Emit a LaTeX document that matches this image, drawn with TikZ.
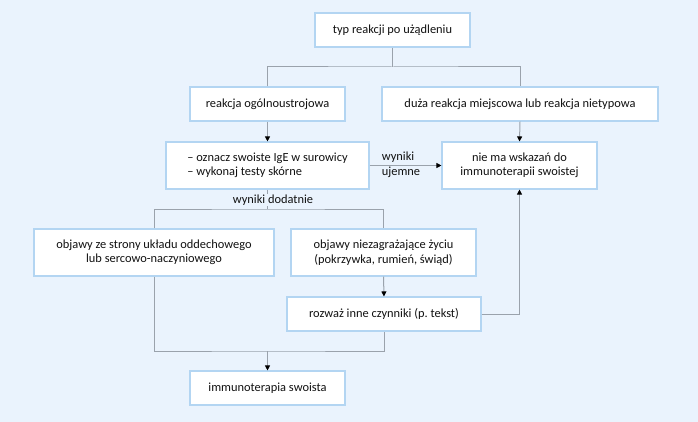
\documentclass[tikz,border=0pt]{standalone}
\usepackage{fontspec}
\setmainfont{Carlito}
\usetikzlibrary{arrows.meta}
\definecolor{bgc}{HTML}{EAF3FD}
\definecolor{bordc}{HTML}{B3D5F2}
\definecolor{linec}{HTML}{9AA2AC}
\definecolor{txtc}{HTML}{111111}
\frenchspacing
\tikzset{
  box/.style={draw=bordc, line width=1.1pt, fill=white, inner sep=0pt, align=center, text=txtc, font=\fontsize{12.4}{14.5}\selectfont},
  conn/.style={draw=linec, line width=1pt},
  arr/.style={conn, -{Triangle[length=5pt,width=5pt,color=black]}},
  lbl/.style={text=txtc, font=\fontsize{12.4}{14.5}\selectfont, inner sep=1pt},
}
\begin{document}
\begin{tikzpicture}[x=1pt,y=-1pt]
\fill[bgc] (0,0) rectangle (698,422);
\useasboundingbox (0,0) rectangle (698,422);
\node[box, minimum width=155pt, minimum height=34pt] (b1) at (392.5,30) {typ reakcji po użądleniu};
\node[box, minimum width=155pt, minimum height=34pt] (b2) at (267.5,104) {reakcja ogólnoustrojowa};
\node[box, minimum width=276pt, minimum height=34pt] (b3) at (520,104) {duża reakcja miejscowa lub reakcja nietypowa};
\node[box, minimum width=203pt, minimum height=47pt, align=left] (b4) at (267.5,165.5) {– oznacz swoiste IgE w surowicy\\– wykonaj testy skórne};
\node[box, minimum width=155pt, minimum height=47pt] (b5) at (519.5,165.5) {nie ma wskazań do\\immunoterapii swoistej};
\node[box, minimum width=240pt, minimum height=47pt] (b6) at (154,252.5) {objawy ze strony układu oddechowego\\lub sercowo-naczyniowego};
\node[box, minimum width=185pt, minimum height=47pt] (b7) at (383.5,252.5) {objawy niezagrażające życiu\\(pokrzywka, rumień, świąd)};
\node[box, minimum width=194pt, minimum height=34pt] (b8) at (384,314) {rozważ inne czynniki (p. tekst)};
\node[box, minimum width=155pt, minimum height=34pt] (b9) at (267.5,388) {immunoterapia swoista};

\coordinate (j1) at (392.5,67);
\coordinate (j2) at (267.5,209);
\coordinate (j3) at (267.5,351);

\draw[conn] (b1.south) -- (j1);
\draw[conn] (b2.north) |- (j1) -| (b3.north);
\draw[arr] (b2.south) -- (b4.north);
\draw[arr] (b3.south) -- (b5.north);
\draw[arr] (b4.east) -- (b5.west);
\node[lbl, align=left] (l1) at (401,165) {wyniki\\ujemne};
\draw[conn] (b4.south) -- (j2);
\draw[conn] (b6.north) |- (j2) -| (b7.north);
\node[lbl, fill=bgc] (l2) at (273,200) {wyniki dodatnie};
\draw[arr] (b7.south) -- (b8.north);
\draw[arr] (b8.east) -| (b5.south);
\draw[conn] (b6.south) |- (j3) -| (b8.south);
\draw[arr] (j3) -- (b9.north);
\end{tikzpicture}
\end{document}
